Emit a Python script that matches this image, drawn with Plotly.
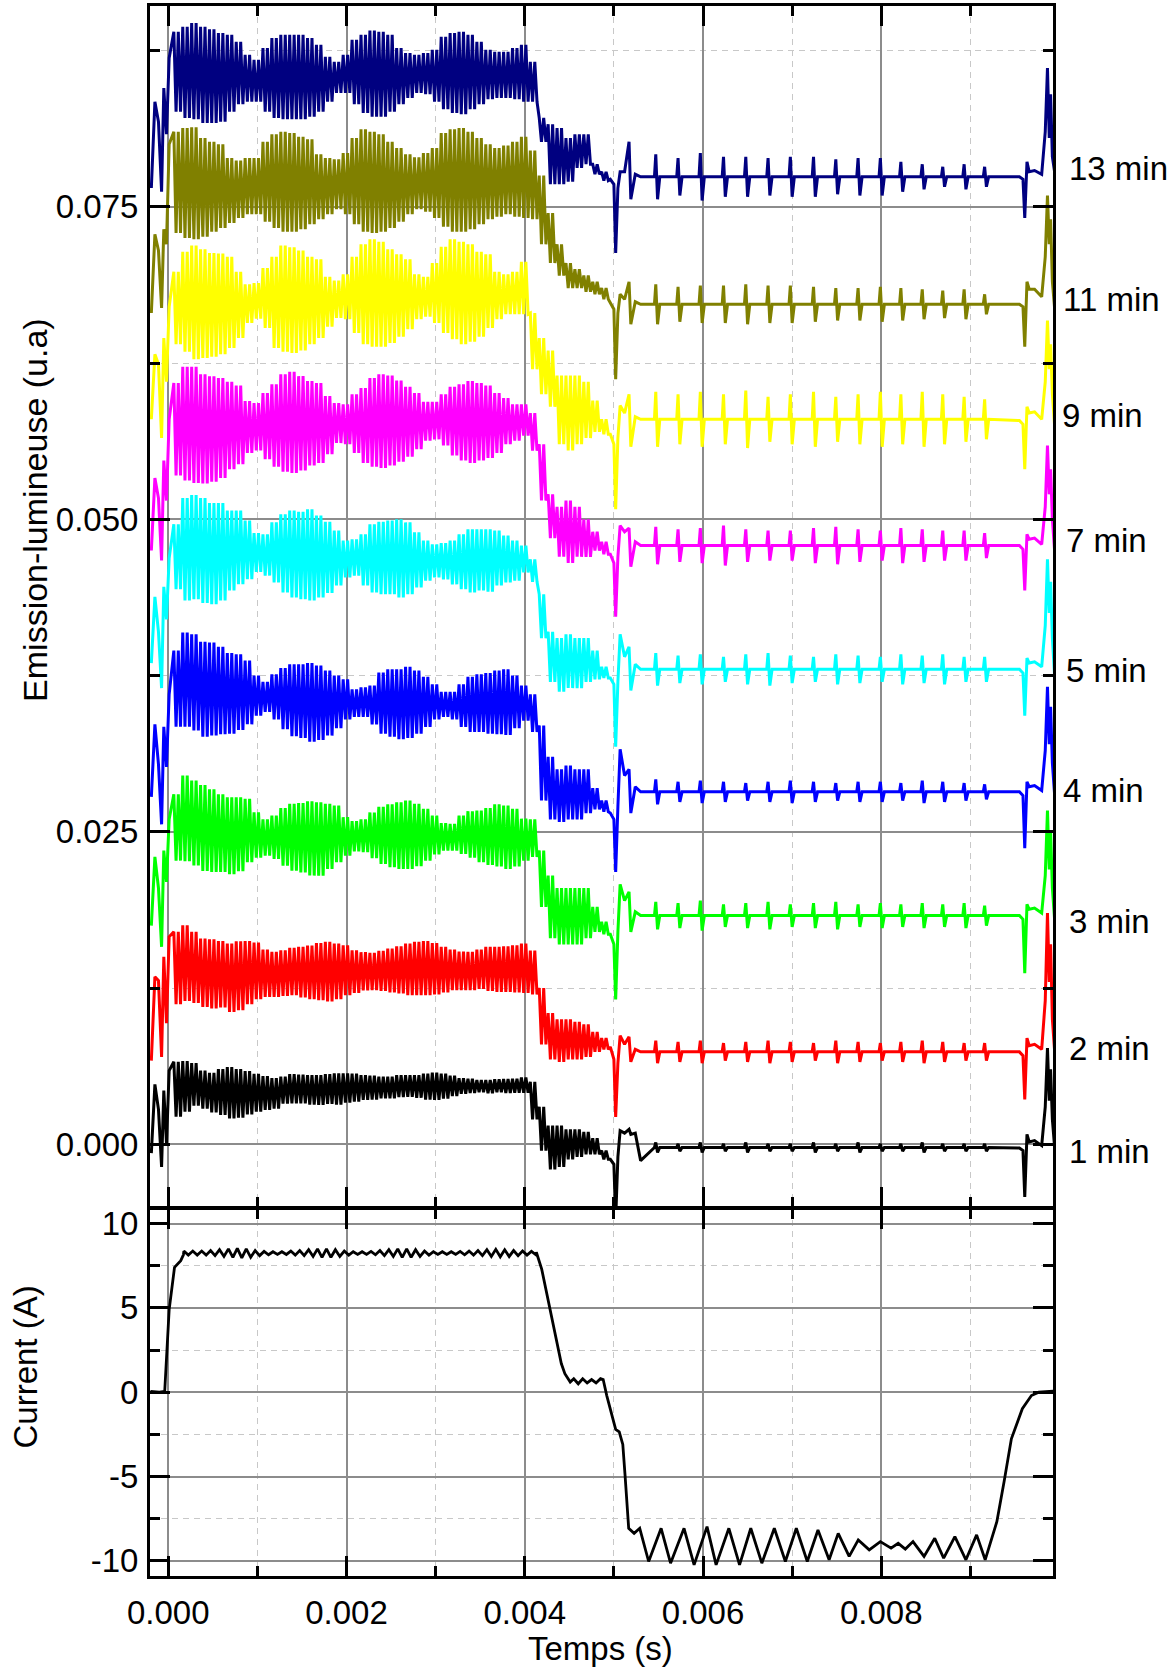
import plotly.graph_objects as go

# ---------------- data (time in ms, emission in 1e-3 u.a, current in A) ----------------
LABELS = ["1 min", "2 min", "3 min", "4 min", "5 min", "7 min", "9 min", "11 min", "13 min"]
COLORS = ["#000000", "#ff0000", "#00ff00", "#0000ff", "#00ffff", "#ff00ff", "#ffff00", "#808000", "#000080"]
LABEL_Y = [-0.6, 7.7, 17.85, 28.3, 37.9, 48.3, 58.3, 67.6, 78.1]
BASE = [-0.25, 7.4, 18.3, 28.2, 38.0, 47.9, 58.0, 67.2, 77.4]

T_PRE = [-0.19, -0.15, -0.11, -0.075, -0.05, -0.02, 0.01]
T_ENV = [round(0.1 * k, 2) for k in range(1, 50)]
T_TAIL = [4.96, 5.0, 5.02, 5.045, 5.07, 5.12, 5.17, 5.19, 5.24, 5.30]
SPIKE_T = [5.47, 5.72, 5.97, 6.23, 6.48, 6.73, 6.98, 7.24, 7.49, 7.74, 7.99, 8.22, 8.46, 8.69, 8.93, 9.16]
T_END = [9.55, 9.59, 9.61, 9.635, 9.66, 9.72, 9.80, 9.84, 9.865, 9.885, 9.9, 9.92, 9.945]

# 13 min
PRE_13 = [76.5, 83.4, 81.8, 76.2, 84.5, 80.8, 86.9]
HI_13 = [89.0, 89.4, 89.7, 89.4, 89.2, 88.9, 88.75, 88.2, 87.15, 86.75, 87.7, 88.5, 88.75, 88.75, 88.75, 88.5, 87.95, 87.0, 86.6, 87.15,
         88.35, 88.75, 89.1, 89.0, 88.75, 87.7, 87.3, 87.15, 87.3, 87.55, 88.6, 88.9, 89.0, 88.75, 88.2, 87.55, 87.4, 87.4, 87.7, 87.95,
         86.6, 82.1, 81.6, 81.3, 80.5, 80.8, 80.8, 78.4, 77.8]
LO_13 = [82.6, 82.1, 82.0, 81.7, 81.7, 81.8, 82.6, 83.2, 83.4, 83.4, 82.6, 82.1, 82.0, 82.0, 82.0, 82.2, 82.6, 83.4, 84.1, 84.1,
         83.2, 82.5, 82.2, 82.2, 82.6, 83.2, 83.7, 84.1, 84.0, 83.4, 82.8, 82.5, 82.4, 82.8, 83.2, 83.6, 83.7, 83.7, 83.6, 83.4,
         83.4, 80.2, 76.8, 76.8, 77.0, 78.1, 78.4, 77.6, 77.1]
TAIL_13 = [77.2, 76.8, 71.3, 76.5, 77.8, 77.8, 80.2, 75.6, 77.6, 77.4]
SPK_13 = [1.8, 1.5, 1.9, 1.6, 1.6, 1.5, 1.6, 1.6, 1.4, 1.5, 1.5, 1.2, 1.0, 0.8, 1.0, 0.8]
END_13 = [77.4, 77.2, 74.1, 78.6, 77.8, 77.9, 77.6, 81.0, 86.1, 80.5, 84.0, 79.0, 77.8]

# 11 min
PRE_11 = [66.5, 72.8, 71.5, 66.9, 73.2, 72.0, 80.0]
HI_11 = [81.0, 81.3, 81.35, 80.5, 80.2, 80.0, 78.9, 78.7, 78.9, 78.9, 80.2, 80.8, 81.0, 80.9, 80.6, 80.4, 79.2, 78.9, 78.8, 79.3,
         80.5, 81.2, 81.0, 80.8, 80.2, 79.7, 79.2, 78.95, 79.3, 79.7, 80.9, 81.2, 81.3, 81.0, 80.5, 80.0, 79.7, 79.9, 80.2, 80.6,
         79.5, 77.5, 74.5, 72.0, 70.5, 70.0, 69.5, 69.0, 68.5]
LO_11 = [72.9, 72.5, 72.4, 72.6, 73.0, 73.3, 73.7, 74.1, 74.4, 74.4, 73.8, 73.3, 73.0, 73.0, 73.2, 73.6, 74.0, 74.4, 74.8, 74.4,
         73.6, 73.0, 72.9, 73.0, 73.3, 73.8, 74.4, 74.8, 74.6, 74.1, 73.4, 73.0, 73.0, 73.2, 73.6, 74.0, 74.2, 74.4, 74.2, 74.1,
         74.0, 72.0, 70.5, 69.5, 68.5, 68.5, 68.2, 68.0, 67.6]
TAIL_11 = [67.3, 66.8, 61.2, 66.5, 68.0, 67.6, 69.0, 65.6, 67.4, 67.2]
SPK_11 = [1.6, 1.4, 1.5, 1.5, 1.6, 1.5, 1.5, 1.4, 1.3, 1.3, 1.4, 1.3, 1.2, 1.1, 1.2, 0.8]
END_11 = [67.2, 67.0, 63.8, 69.0, 68.4, 68.4, 67.8, 71.0, 75.9, 72.0, 74.0, 69.0, 66.9]

# 9 min
PRE_9 = [58.0, 63.2, 62.4, 56.5, 64.5, 61.0, 67.0]
HI_9 = [69.8, 71.4, 71.9, 71.6, 71.3, 71.25, 71.0, 69.8, 68.8, 68.9, 70.1, 71.0, 71.9, 71.75, 71.5, 71.0, 70.8, 69.4, 69.1, 69.6,
        71.0, 72.0, 72.4, 72.2, 71.6, 71.2, 70.8, 69.6, 69.4, 70.5, 71.8, 72.4, 72.2, 72.0, 71.4, 71.2, 69.8, 69.6, 69.8, 70.6,
        66.5, 64.5, 63.5, 61.5, 61.5, 61.5, 61.0, 59.5, 58.0]
LO_9 = [64.0, 63.4, 62.8, 62.9, 63.0, 63.2, 63.7, 64.5, 65.7, 66.05, 65.3, 63.7, 63.4, 63.3, 63.5, 64.0, 64.5, 65.4, 66.1, 66.0,
        64.9, 64.0, 63.8, 63.8, 64.1, 64.6, 65.2, 66.0, 66.2, 65.7, 64.9, 64.4, 64.0, 64.2, 64.6, 65.3, 66.0, 66.4, 66.4, 66.4,
        62.0, 60.0, 59.0, 56.0, 55.5, 56.0, 56.5, 57.0, 56.8]
TAIL_9 = [56.8, 56.0, 50.8, 56.5, 59.1, 58.5, 60.0, 55.8, 58.2, 58.0]
SPK_9 = [2.2, 2.0, 2.2, 2.0, 2.3, 1.8, 2.0, 2.2, 1.8, 2.0, 2.2, 2.0, 2.2, 2.0, 1.8, 1.6]
END_9 = [57.9, 57.6, 54.0, 59.0, 58.5, 58.6, 58.0, 61.0, 65.9, 62.0, 64.0, 60.0, 57.5]

# 7 min
PRE_7 = [47.5, 53.3, 51.7, 46.7, 54.7, 51.5, 58.0]
HI_7 = [60.9, 62.2, 62.2, 61.6, 61.45, 61.3, 61.0, 60.7, 59.45, 59.3, 60.1, 60.8, 61.6, 61.8, 61.45, 61.05, 60.9, 59.85, 59.3, 59.2,
        60.0, 60.5, 61.3, 61.6, 61.5, 61.1, 60.6, 60.1, 59.4, 59.4, 60.0, 60.6, 60.8, 61.05, 60.9, 60.7, 60.1, 59.7, 59.2, 59.2,
        58.5, 56.0, 52.0, 51.0, 51.5, 51.0, 50.0, 49.0, 48.2]
LO_7 = [53.5, 53.1, 52.9, 52.86, 53.0, 53.3, 54.0, 54.4, 55.3, 55.5, 54.8, 54.2, 53.8, 53.7, 53.9, 54.3, 54.5, 55.2, 56.1, 56.0,
        55.3, 54.5, 54.2, 54.1, 54.3, 54.6, 55.0, 55.6, 56.3, 56.4, 55.9, 55.1, 54.7, 54.5, 54.7, 54.9, 55.3, 56.0, 56.3, 56.7,
        55.5, 51.5, 48.5, 47.0, 46.5, 47.0, 47.0, 47.5, 47.2]
TAIL_7 = [47.2, 46.5, 42.2, 47.0, 49.5, 49.0, 49.3, 46.2, 48.2, 47.9]
SPK_7 = [1.5, 1.3, 1.4, 1.6, 1.3, 1.2, 1.2, 1.4, 1.5, 1.3, 1.2, 1.4, 1.3, 1.2, 1.2, 1.0]
END_7 = [47.9, 47.6, 44.3, 48.8, 48.4, 48.5, 48.0, 51.0, 55.9, 52.0, 54.0, 50.0, 47.5]

# 5 min
PRE_5 = [38.5, 43.8, 41.0, 36.5, 44.6, 42.0, 46.9]
HI_5 = [49.6, 51.7, 51.95, 51.7, 51.3, 51.3, 50.7, 50.7, 49.9, 48.9, 48.8, 49.75, 50.4, 50.7, 50.6, 50.8, 50.3, 49.8, 49.1, 48.3,
        48.4, 48.8, 49.6, 49.8, 49.9, 50.0, 49.75, 48.95, 48.3, 48.0, 48.1, 48.3, 48.8, 49.2, 49.2, 49.2, 49.1, 48.7, 48.3, 47.9,
        46.8, 44.0, 41.0, 40.5, 40.8, 40.5, 40.5, 39.5, 38.2]
LO_5 = [44.4, 43.5, 43.6, 43.3, 43.2, 43.5, 44.3, 44.8, 45.2, 45.8, 45.5, 44.95, 44.15, 43.75, 43.6, 43.5, 43.75, 44.1, 44.7, 45.35,
        45.5, 44.7, 44.15, 44.0, 44.0, 43.75, 44.0, 44.55, 45.1, 45.35, 45.2, 44.8, 44.4, 44.15, 44.3, 44.2, 44.7, 44.95, 45.1, 45.75,
        45.0, 40.5, 37.0, 36.2, 36.5, 36.5, 37.0, 37.2, 37.3]
TAIL_5 = [37.3, 36.8, 31.8, 37.0, 40.8, 39.0, 39.8, 36.3, 38.4, 38.0]
SPK_5 = [1.3, 1.1, 1.2, 1.0, 1.2, 1.3, 1.1, 1.0, 1.2, 1.1, 1.0, 1.2, 1.1, 1.2, 1.0, 1.0]
END_5 = [38.0, 37.7, 34.3, 38.9, 38.5, 38.6, 38.2, 41.5, 46.8, 42.5, 45.0, 40.5, 37.5]

# 4 min
PRE_4 = [27.8, 33.6, 30.4, 25.6, 33.4, 30.2, 36.0]
HI_4 = [39.5, 40.95, 40.8, 40.2, 40.15, 39.8, 39.3, 39.2, 38.7, 37.5, 37.0, 37.6, 38.1, 38.4, 38.4, 38.5, 38.3, 37.9, 37.5, 37.2,
        36.4, 36.55, 36.7, 37.75, 38.0, 38.0, 38.2, 37.9, 37.4, 36.8, 36.2, 36.2, 36.8, 37.4, 37.6, 37.7, 37.9, 38.0, 37.5, 36.7,
        36.0, 33.5, 31.0, 30.0, 30.3, 30.0, 30.0, 28.5, 27.5]
LO_4 = [33.4, 33.4, 33.1, 32.6, 32.7, 32.8, 32.85, 33.15, 33.6, 34.3, 34.6, 34.0, 33.2, 32.65, 32.5, 32.2, 32.35, 32.7, 33.3, 34.0,
        34.2, 34.2, 33.6, 32.85, 32.6, 32.4, 32.5, 32.85, 33.4, 34.0, 34.2, 34.0, 33.4, 33.0, 33.0, 32.85, 32.8, 32.75, 33.3, 33.9,
        33.0, 27.5, 26.0, 25.8, 26.0, 26.0, 26.5, 26.8, 26.6]
TAIL_4 = [26.5, 26.0, 21.8, 27.0, 31.6, 29.5, 30.0, 26.5, 28.6, 28.2]
SPK_4 = [1.0, 0.8, 0.9, 0.8, 0.7, 0.8, 0.9, 0.8, 0.7, 0.8, 0.8, 0.7, 0.9, 0.8, 0.7, 0.6]
END_4 = [28.2, 27.9, 23.7, 29.0, 28.6, 28.7, 28.3, 31.5, 36.6, 32.0, 35.0, 30.5, 28.0]

# 3 min
PRE_3 = [17.5, 23.0, 20.5, 15.8, 23.5, 21.0, 26.0]
HI_3 = [28.0, 29.5, 29.1, 28.75, 28.4, 28.0, 27.77, 27.77, 27.64, 26.57, 26.0, 26.3, 26.9, 27.24, 27.3, 27.45, 27.37, 27.24, 27.1, 26.17,
        25.85, 26.0, 26.55, 27.0, 27.2, 27.37, 27.5, 27.24, 26.84, 26.3, 25.7, 25.64, 26.3, 26.65, 26.7, 26.9, 27.2, 27.1, 26.84, 26.05,
        26.0, 23.5, 21.5, 20.5, 20.5, 20.5, 20.5, 19.0, 17.8]
LO_3 = [22.7, 22.65, 22.3, 21.86, 21.78, 21.78, 21.6, 21.86, 22.58, 22.93, 23.1, 22.84, 22.3, 21.9, 21.75, 21.5, 21.5, 22.04, 22.58, 23.1,
        23.43, 23.38, 22.9, 22.44, 22.18, 22.04, 22.04, 22.26, 22.7, 23.2, 23.5, 23.5, 23.24, 22.93, 22.58, 22.36, 22.23, 22.04, 22.23, 22.7,
        23.0, 19.0, 16.5, 16.0, 16.0, 16.0, 16.5, 17.0, 16.8]
TAIL_3 = [16.8, 16.0, 11.6, 17.0, 20.8, 19.5, 20.2, 17.0, 18.6, 18.3]
SPK_3 = [1.1, 1.0, 1.2, 0.9, 1.0, 1.1, 0.9, 1.0, 1.1, 0.9, 1.0, 0.9, 1.0, 0.9, 1.0, 0.8]
END_3 = [18.3, 18.0, 13.7, 19.2, 18.8, 18.9, 18.5, 21.5, 26.7, 22.0, 25.0, 20.5, 18.0]

# 2 min
PRE_2 = [6.7, 13.4, 13.1, 7.0, 15.0, 9.7, 16.6]
HI_2 = [17.0, 17.53, 17.0, 16.46, 16.4, 16.27, 16.06, 16.25, 16.27, 16.14, 15.58, 15.4, 15.53, 15.72, 15.8, 15.9, 16.1, 16.2, 16.06, 15.93,
        15.53, 15.37, 15.32, 15.48, 15.66, 15.85, 16.06, 16.2, 16.27, 16.1, 15.8, 15.58, 15.42, 15.4, 15.58, 15.8, 15.8, 15.85, 15.93, 16.06,
        15.5, 12.5, 10.5, 10.0, 10.0, 9.8, 9.6, 9.0, 8.5]
LO_2 = [11.22, 11.48, 11.32, 11.0, 10.87, 10.95, 10.6, 10.74, 11.22, 11.62, 11.8, 11.8, 11.88, 11.93, 11.75, 11.62, 11.54, 11.43, 11.62, 11.93,
        12.12, 12.31, 12.33, 12.28, 12.15, 12.07, 11.93, 11.93, 11.93, 11.99, 12.15, 12.33, 12.33, 12.33, 12.44, 12.28, 12.2, 12.2, 12.15, 12.12,
        12.0, 8.0, 6.8, 6.6, 6.8, 6.8, 7.0, 7.4, 7.6]
TAIL_2 = [7.8, 6.8, 2.2, 6.5, 8.7, 8.0, 8.6, 6.6, 7.6, 7.4]
SPK_2 = [0.9, 0.8, 0.9, 0.7, 0.8, 0.9, 0.8, 0.7, 0.9, 0.8, 0.7, 0.8, 0.9, 0.8, 0.7, 0.7]
END_2 = [7.4, 7.1, 3.6, 8.5, 7.9, 8.0, 7.6, 11.5, 18.5, 13.0, 16.0, 10.0, 7.5]

# 1 min
PRE_1 = [-0.7, 4.8, 2.8, -1.8, 4.3, 0.1, 5.9]
HI_1 = [6.61, 6.66, 6.5, 5.9, 5.73, 6.02, 6.18, 6.02, 5.86, 5.65, 5.46, 5.3, 5.41, 5.62, 5.57, 5.54, 5.54, 5.62, 5.68, 5.68,
        5.65, 5.54, 5.49, 5.41, 5.41, 5.54, 5.54, 5.54, 5.65, 5.73, 5.65, 5.49, 5.3, 5.25, 5.14, 5.14, 5.2, 5.22, 5.25, 5.36,
        5.0, 3.0, 1.5, 1.5, 1.2, 1.2, 1.0, 0.5, -0.5]
LO_1 = [2.22, 2.61, 3.1, 2.85, 2.56, 2.35, 2.08, 2.14, 2.4, 2.61, 2.75, 2.85, 3.25, 3.28, 3.28, 3.17, 3.15, 3.23, 3.17, 3.33,
        3.41, 3.55, 3.57, 3.68, 3.68, 3.79, 3.81, 3.73, 3.57, 3.55, 3.65, 3.87, 4.05, 4.1, 4.16, 4.08, 4.16, 4.1, 4.13, 4.13,
        2.0, -0.5, -2.0, -1.8, -1.2, -1.0, -0.8, -0.8, -1.2]
TAIL_1 = [-1.2, -1.6, -6.0, -1.0, 1.1, 0.9, 1.2, 0.8, 0.9, -1.3]
SPK_1 = [0.4, 0.3, 0.4, 0.3, 0.4, 0.3, 0.3, 0.4, 0.3, 0.4, 0.3, 0.3, 0.4, 0.3, 0.3, 0.3]
END_1 = [-0.3, -0.5, -4.2, 0.8, 0.2, 0.3, -0.1, 3.0, 7.7, 3.5, 6.0, 2.0, -0.2]

# current (A)
CUR_PRE_T = [-0.2, -0.1, -0.04, 0.01, 0.07, 0.14, 0.17]
CUR_PRE_I = [0.05, 0.0, 0.05, 4.9, 7.4, 7.8, 8.15]
CUR_RIP_T = [round(0.1 * k, 2) for k in range(2, 42)]
CUR_LEVEL = 8.25
CUR_RIPPLE = [0.12, 0.12, 0.12, 0.15, 0.2, 0.25, 0.28, 0.25, 0.15, 0.1, 0.08, 0.08, 0.12, 0.15, 0.2, 0.25, 0.25, 0.2, 0.12, 0.08,
              0.08, 0.1, 0.15, 0.2, 0.25, 0.25, 0.2, 0.12, 0.08, 0.08, 0.08, 0.1, 0.12, 0.15, 0.2, 0.22, 0.2, 0.15, 0.12, 0.1]
CUR_POST_T = [4.13, 4.19, 4.30, 4.41, 4.45, 4.51, 4.55, 4.60, 4.65, 4.70, 4.75, 4.80, 4.85, 4.88, 4.92, 5.02, 5.06, 5.10, 5.125,
              5.166, 5.227, 5.29, 5.39, 5.53, 5.636, 5.787, 5.90, 6.045, 6.147, 6.29, 6.41, 6.536, 6.66, 6.80, 6.924, 7.047,
              7.17, 7.29, 7.415, 7.517, 7.64, 7.742, 7.865, 7.99, 8.11, 8.19, 8.27, 8.356, 8.48, 8.60, 8.70, 8.826, 8.95,
              9.07, 9.166, 9.297, 9.378, 9.46, 9.583, 9.685, 9.767, 9.93]
CUR_POST_I = [8.3, 7.3, 4.5, 1.7, 1.1, 0.6, 0.8, 0.5, 0.8, 0.55, 0.75, 0.55, 0.8, 0.75, -0.2, -2.2, -2.35, -3.1, -4.9,
              -8.07, -8.37, -8.07, -10.04, -8.07, -10.14, -8.07, -10.24, -7.97, -10.24, -8.07, -10.24, -8.07, -10.14, -8.07, -10.04, -8.07,
              -10.04, -8.17, -9.94, -8.37, -9.74, -8.76, -9.35, -8.86, -9.25, -8.96, -9.3, -8.86, -9.74, -8.66, -9.84, -8.56, -9.94,
              -8.46, -9.94, -7.68, -5.31, -2.76, -0.98, -0.2, 0.0, 0.06]

X_TICKS = [0.0, 0.002, 0.004, 0.006, 0.008]
X_TICKTEXT = ["0.000", "0.002", "0.004", "0.006", "0.008"]
X_MINOR = [0.001, 0.003, 0.005, 0.007, 0.009]
Y1_TICKS = [0.0, 0.025, 0.05, 0.075]
Y1_TICKTEXT = ["0.000", "0.025", "0.050", "0.075"]
Y1_MINOR = [0.0125, 0.0375, 0.0625, 0.0875]
Y2_TICKS = [-10, -5, 0, 5, 10]
Y2_TICKTEXT = ["-10", "-5", "0", "5", "10"]
Y2_MINOR = [-7.5, -2.5, 2.5, 7.5]

SERIES = [
    (PRE_1, HI_1, LO_1, TAIL_1, SPK_1, END_1),
    (PRE_2, HI_2, LO_2, TAIL_2, SPK_2, END_2),
    (PRE_3, HI_3, LO_3, TAIL_3, SPK_3, END_3),
    (PRE_4, HI_4, LO_4, TAIL_4, SPK_4, END_4),
    (PRE_5, HI_5, LO_5, TAIL_5, SPK_5, END_5),
    (PRE_7, HI_7, LO_7, TAIL_7, SPK_7, END_7),
    (PRE_9, HI_9, LO_9, TAIL_9, SPK_9, END_9),
    (PRE_11, HI_11, LO_11, TAIL_11, SPK_11, END_11),
    (PRE_13, HI_13, LO_13, TAIL_13, SPK_13, END_13),
]

# half-period offsets (ms) used to draw the ~20 kHz oscillation between read envelopes
HALF = [-0.0375, -0.0125, 0.0125, 0.0375]


def build(pre, hi, lo, tail, base, spk, end):
    xs, ys = [], []
    xs += T_PRE
    ys += pre
    for tk, h, l in zip(T_ENV, hi, lo):
        for off, v in zip(HALF, (h, l, h, l)):
            xs.append(tk + off)
            ys.append(v)
    xs += T_TAIL
    ys += tail
    for ts, a in zip(SPIKE_T, spk):
        xs += [ts - 0.015, ts, ts + 0.02, ts + 0.045]
        ys += [base, base + a, base - a, base]
    xs += T_END
    ys += end
    return [x / 1000 for x in xs], [y / 1000 for y in ys]


fig = go.Figure()
for (pre, hi, lo, tail, spk, end), base, col, name in zip(SERIES, BASE, COLORS, LABELS):
    x, y = build(pre, hi, lo, tail, base, spk, end)
    fig.add_trace(go.Scatter(x=x, y=y, mode="lines", name=name, xaxis="x2", yaxis="y2",
                             line=dict(color=col, width=3), showlegend=False))

# current trace
cx, cy = list(CUR_PRE_T), list(CUR_PRE_I)
for tk, a in zip(CUR_RIP_T, CUR_RIPPLE):
    cx += [tk - 0.025, tk + 0.025]
    cy += [CUR_LEVEL + a, CUR_LEVEL - a]
cx += CUR_POST_T
cy += CUR_POST_I
fig.add_trace(go.Scatter(x=[t / 1000 for t in cx], y=cy, mode="lines", xaxis="x", yaxis="y",
                         line=dict(color="black", width=2.8), showlegend=False))

FONT = "Liberation Sans, Arial, Helvetica, sans-serif"
ax = dict(showline=True, linecolor="black", linewidth=3, mirror="allticks", ticks="inside", ticklen=20,
          tickwidth=3, tickcolor="black", showgrid=True, gridcolor="#8c8c8c", gridwidth=1.5, zeroline=False,
          tickfont=dict(family=FONT, size=33, color="black"))
minor = dict(ticks="inside", ticklen=10, tickwidth=3, tickcolor="black", showgrid=True,
             gridcolor="#c8c8c8", gridwidth=1.2, griddash="6px,5px")

XR = [-0.000205, 0.009927]
fig.update_layout(
    width=1171, height=1667,
    margin=dict(l=150, r=118, t=6, b=91, autoexpand=False),
    paper_bgcolor="white", plot_bgcolor="white",
    xaxis=dict(ax, range=XR, domain=[0, 1], anchor="y", tickvals=X_TICKS, ticktext=X_TICKTEXT,
               minor=dict(minor, tickvals=X_MINOR), ticklabelstandoff=5),
    yaxis=dict(ax, range=[-10.9, 10.85], domain=[0, 0.2336], anchor="x", tickvals=Y2_TICKS, ticktext=Y2_TICKTEXT,
               minor=dict(minor, tickvals=Y2_MINOR), ticklabelstandoff=2),
    xaxis2=dict(ax, range=XR, domain=[0, 1], anchor="y2", tickvals=X_TICKS, showticklabels=False,
                minor=dict(minor, tickvals=X_MINOR)),
    yaxis2=dict(ax, range=[-0.00499, 0.09106], domain=[0.2352, 1], anchor="x2", tickvals=Y1_TICKS,
                ticktext=Y1_TICKTEXT, minor=dict(minor, tickvals=Y1_MINOR), ticklabelstandoff=2),
)

XSHIFT = [14, 14, 14, 8, 11, 11, 7, 8, 14]
for name, ly, xs in zip(LABELS, LABEL_Y, XSHIFT):
    fig.add_annotation(x=1, xref="paper", y=ly / 1000, yref="y2", text=name, showarrow=False,
                       xanchor="left", yanchor="middle", xshift=xs,
                       font=dict(family=FONT, size=33, color="black"))

fig.add_annotation(x=-0.1274, xref="paper", y=0.679, yref="paper", text="Emission-lumineuse (u.a)",
                   textangle=-90, showarrow=False, xanchor="center", yanchor="middle",
                   font=dict(family=FONT, size=34, color="black"))
fig.add_annotation(x=-0.1379, xref="paper", y=0.1331, yref="paper", text="Current (A)",
                   textangle=-90, showarrow=False, xanchor="center", yanchor="middle",
                   font=dict(family=FONT, size=33, color="black"))
fig.add_annotation(x=0.4994, xref="paper", y=-0.0462, yref="paper", text="Temps (s)",
                   showarrow=False, xanchor="center", yanchor="middle",
                   font=dict(family=FONT, size=33, color="black"))

fig.write_html("out.html", config={"displayModeBar": False},
               post_script="document.body.style.margin='0px';document.body.style.overflow='hidden';")
